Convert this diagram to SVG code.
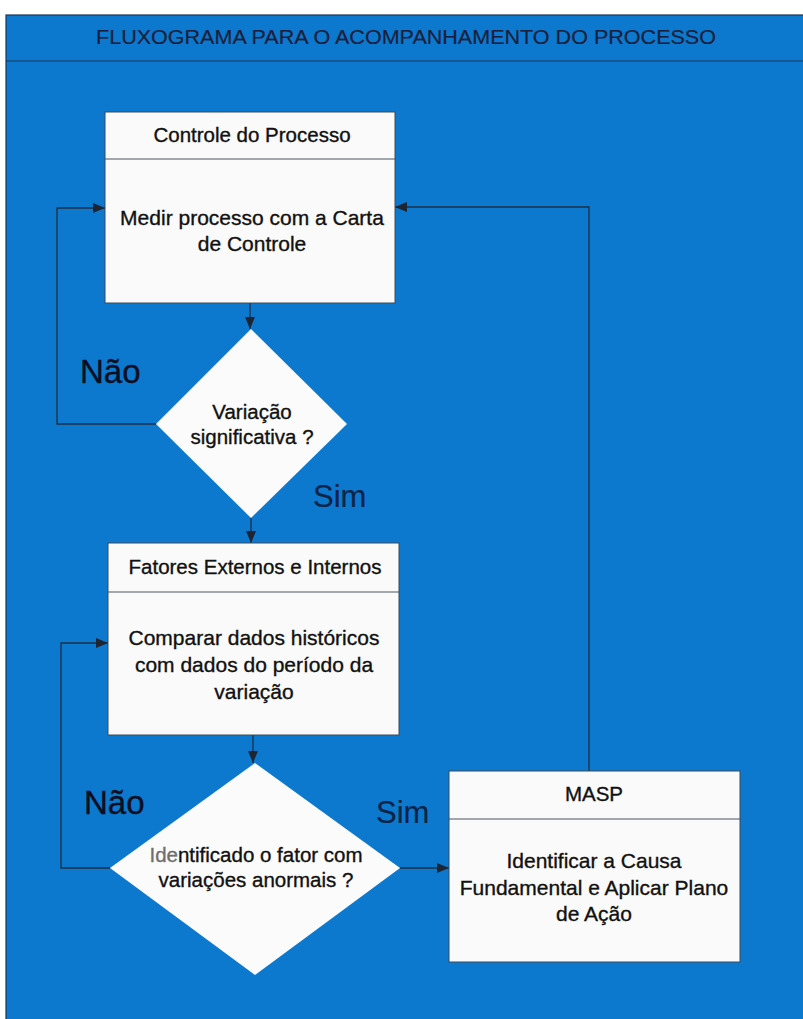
<svg xmlns="http://www.w3.org/2000/svg" width="803" height="1019" viewBox="0 0 803 1019">
  <style>
    .frame { fill: #0c79cf; stroke: #1d3550; stroke-width: 1.2; }
    .box { fill: #fafafa; stroke: #3a4a5a; stroke-width: 1; }
    .divider { stroke: #4a5560; stroke-width: 1.2; }
    .dec { fill: #fbfbfb; stroke: none; }
    .edge { fill: none; stroke: #1d2f45; stroke-width: 1.3; }
    .t { font-family: "Liberation Sans", Arial, sans-serif; fill: #111; stroke: #111; stroke-width: 0.35; text-anchor: middle; }
    .title { font-size: 20px; fill: #1a1f3c; stroke: #1a1f3c; stroke-width: 0.2; }
    .head { font-size: 20.5px; }
    .body { font-size: 21px; }
    .no { font-family: "Liberation Sans", Arial, sans-serif; font-size: 33px; fill: #0b0f1f; stroke: #0b0f1f; stroke-width: 0.4; }
    .yes { font-family: "Liberation Sans", Arial, sans-serif; font-size: 31px; fill: #0c2448; stroke: #0c2448; stroke-width: 0.2; }
  </style>
  <defs>
    <marker id="arrow" viewBox="0 0 12 10" refX="12" refY="5" markerWidth="12" markerHeight="10" markerUnits="userSpaceOnUse" orient="auto">
      <path d="M0,0 L12,5 L0,10 Z" fill="#1d2533"/>
    </marker>
  </defs>

  <!-- page background and frame -->
  <rect x="0" y="0" width="803" height="1019" fill="#ffffff"/>
  <rect class="frame" x="6" y="15" width="810" height="1020"/>
  <line x1="6" y1="61" x2="803" y2="61" stroke="#1d3550" stroke-width="1.2"/>
  <text class="t title" x="406" y="44" textLength="620" lengthAdjust="spacingAndGlyphs">FLUXOGRAMA PARA O ACOMPANHAMENTO DO PROCESSO</text>

  <!-- connectors -->
  <g id="connectors">
    <path class="edge" d="M250,303 L250,329" marker-end="url(#arrow)"/>
    <path class="edge" d="M156,424 L57,424 L57,208 L105,208" marker-end="url(#arrow)"/>
    <path class="edge" d="M251,518 L251,543" marker-end="url(#arrow)"/>
    <path class="edge" d="M253,735 L253,763" marker-end="url(#arrow)"/>
    <path class="edge" d="M110,868 L61,868 L61,643 L108,643" marker-end="url(#arrow)"/>
    <path class="edge" d="M400,868 L449,868" marker-end="url(#arrow)"/>
    <path class="edge" d="M589,771 L589,207 L395,207" marker-end="url(#arrow)"/>
    <text class="no" x="80" y="383">Não</text>
    <text class="yes" x="313" y="507">Sim</text>
    <text class="no" x="84" y="814">Não</text>
    <text class="yes" x="376" y="823">Sim</text>
  </g>

  <!-- process control box -->
  <g id="controle">
    <rect class="box" x="105" y="112" width="290" height="191"/>
    <line class="divider" x1="105" y1="159" x2="395" y2="159"/>
    <text class="t head" x="252" y="142">Controle do Processo</text>
    <text class="t body" x="252" y="225">Medir processo com a Carta</text>
    <text class="t body" x="252" y="251">de Controle</text>
  </g>

  <!-- decision: significant variation -->
  <g id="variacao">
    <polygon class="dec" points="251,329 347,424 251,518 156,424"/>
    <text class="t head" x="252" y="419">Variação</text>
    <text class="t head" x="252" y="444">significativa ?</text>
  </g>

  <!-- external / internal factors box -->
  <g id="fatores">
    <rect class="box" x="108" y="543" width="291" height="192"/>
    <line class="divider" x1="108" y1="592" x2="399" y2="592"/>
    <text class="t head" x="255" y="574">Fatores Externos e Internos</text>
    <text class="t body" x="254" y="645">Comparar dados históricos</text>
    <text class="t body" x="254" y="672">com dados do período da</text>
    <text class="t body" x="254" y="699">variação</text>
  </g>

  <!-- decision: factor identified -->
  <g id="identificado">
    <polygon class="dec" points="255,763 400,868 255,975 110,868"/>
    <text class="t head" x="256" y="862"><tspan fill="#6f6f6f" stroke="#6f6f6f">Ide</tspan>ntificado o fator com</text>
    <text class="t head" x="256" y="887">variações anormais ?</text>
  </g>

  <!-- MASP box -->
  <g id="masp">
    <rect class="box" x="449" y="771" width="291" height="191"/>
    <line class="divider" x1="449" y1="819" x2="740" y2="819"/>
    <text class="t head" x="594" y="801">MASP</text>
    <text class="t body" x="594" y="868">Identificar a Causa</text>
    <text class="t body" x="594" y="895">Fundamental e Aplicar Plano</text>
    <text class="t body" x="594" y="921">de Ação</text>
  </g>
</svg>
